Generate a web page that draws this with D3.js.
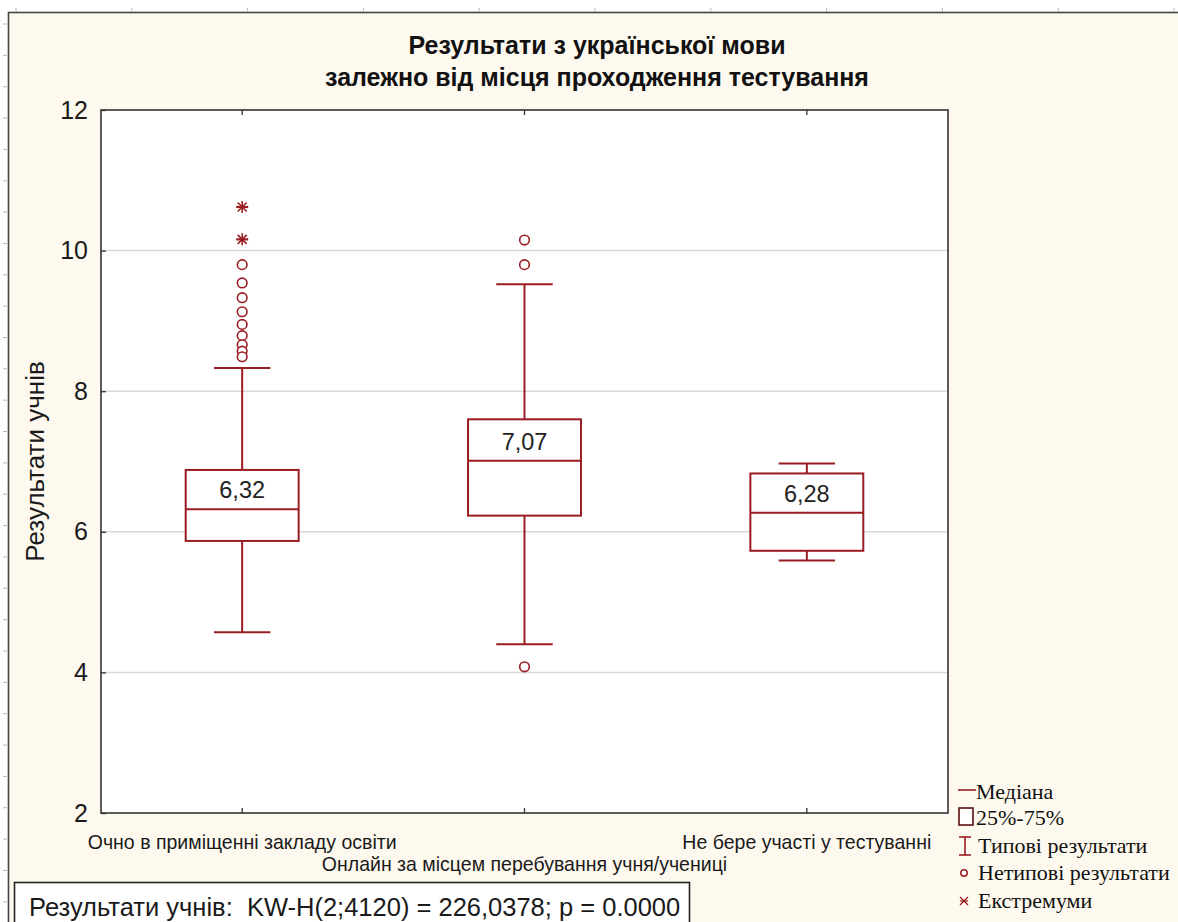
<!DOCTYPE html>
<html><head><meta charset="utf-8">
<script src="https://cdn.jsdelivr.net/npm/d3@7/dist/d3.min.js"></script>
<style>
html,body{margin:0;padding:0;background:#fff;}
svg{display:block;}
</style></head>
<body>
<svg id="chart" width="1178" height="922"></svg>
<script>
// ---- data ----
const categories = ["Очно в приміщенні закладу освіти", "Онлайн за місцем перебування учня/учениці", "Не бере участі у тестуванні"];
const medians = [6.32, 7.01, 6.27];
const medianLabels = ["6,32", "7,07", "6,28"];
const q1 = [5.87, 6.23, 5.73];
const q3 = [6.88, 7.60, 6.83];
const whiskerLow = [4.57, 4.40, 5.59];
const whiskerHigh = [8.33, 9.52, 6.97];
const outliers = [
  [9.80, 9.54, 9.33, 9.13, 8.95, 8.79, 8.66, 8.57, 8.49],
  [10.15, 9.80, 4.08],
  []
];
const extremes = [[10.62, 10.16], [], []];
const yTicks = [2, 4, 6, 8, 10, 12];
const gridValues = [4, 6, 8, 10];
const titleLines = ["Результати з української мови", "залежно від місця проходження тестування"];
const yTitle = "Результати учнів";
const statsText = "Результати учнів:\u00a0 KW-H(2;4120) = 226,0378; p = 0.0000";
const legendItems = ["Медіана", "25%-75%", "Типові результати", "Нетипові результати", "Екстремуми"];

// ---- layout ----
const svg = d3.select("#chart");
const W = 1178, H = 922;
const plot = {l: 101, r: 948, t: 110, b: 813};
const red = "#9a1c22";
const sans = "Arial, 'Liberation Sans', sans-serif";
const serif = "'Times New Roman', 'Liberation Serif', serif";

// ruler strip
svg.append("rect").attr("width", W).attr("height", H).attr("fill", "#ffffff");
svg.append("rect").attr("x", 8.5).attr("y", 12.5).attr("width", W + 10).attr("height", H + 10)
  .attr("fill", "#fef9ee").attr("stroke", "#444").attr("stroke-width", 1.6);
const topTicks = d3.range(16, W, 115.8);
svg.selectAll(".rt").data(topTicks).join("line")
  .attr("x1", d => d).attr("x2", d => d).attr("y1", 8).attr("y2", 12)
  .attr("stroke", "#b8b8b8").attr("stroke-width", 1);
const leftTicks = d3.range(24, H, 31.35);
svg.selectAll(".rl").data(leftTicks).join("line")
  .attr("x1", 3).attr("x2", 7).attr("y1", d => d).attr("y2", d => d)
  .attr("stroke", "#b8b8b8").attr("stroke-width", 1);

// scales
const y = d3.scaleLinear().domain([2, 12]).range([plot.b, plot.t]);
const x = d3.scaleBand().domain(categories).range([plot.l, plot.r]);
const cx = c => x(c) + x.bandwidth() / 2;
const boxW = x.bandwidth() * 0.4;
const capW = x.bandwidth() * 0.2;

// plot area
svg.append("rect").attr("x", plot.l).attr("y", plot.t).attr("width", plot.r - plot.l).attr("height", plot.b - plot.t)
  .attr("fill", "#ffffff");
svg.selectAll(".grid").data(gridValues).join("line")
  .attr("x1", plot.l).attr("x2", plot.r).attr("y1", d => y(d)).attr("y2", d => y(d))
  .attr("stroke", "#d9d9d9").attr("stroke-width", 1.5);

// axes
const yAxis = svg.append("g").attr("transform", `translate(${plot.l},0)`)
  .call(d3.axisLeft(y).tickValues(yTicks).tickSizeInner(-5).tickSizeOuter(0).tickPadding(13).tickFormat(d3.format("d")));
yAxis.select(".domain").remove();
yAxis.selectAll("line").attr("stroke", "#333").attr("stroke-width", 1.3);
yAxis.selectAll("text").attr("font-family", sans).attr("font-size", 25).attr("fill", "#1a1a1a");

const xAxisB = svg.append("g").attr("transform", `translate(0,${plot.b})`)
  .call(d3.axisBottom(x).tickSizeInner(-5).tickSizeOuter(0).tickFormat(""));
xAxisB.select(".domain").remove();
xAxisB.selectAll("line").attr("stroke", "#333").attr("stroke-width", 1.3);
const xAxisT = svg.append("g").attr("transform", `translate(0,${plot.t})`)
  .call(d3.axisTop(x).tickSizeInner(-5).tickSizeOuter(0).tickFormat(""));
xAxisT.select(".domain").remove();
xAxisT.selectAll("line").attr("stroke", "#333").attr("stroke-width", 1.3);

svg.append("rect").attr("x", plot.l).attr("y", plot.t).attr("width", plot.r - plot.l).attr("height", plot.b - plot.t)
  .attr("fill", "none").attr("stroke", "#333").attr("stroke-width", 1.6);

// category labels (staggered)
const labY = i => i === 1 ? 871 : 849;
svg.selectAll(".xl").data(categories).join("text")
  .attr("x", d => cx(d)).attr("y", (d, i) => labY(i))
  .attr("text-anchor", "middle").attr("font-family", sans).attr("font-size", 21)
  .attr("fill", "#1a1a1a")
  .attr("transform", (d, i) => { const X = cx(d), Y = labY(i); return `translate(${X},${Y}) scale(0.93,1) translate(${-X},${-Y})`; })
  .text(d => d);

// boxes
const g = svg.append("g");
categories.forEach((c, i) => {
  const X = cx(c);
  g.append("line").attr("x1", X).attr("x2", X).attr("y1", y(q3[i])).attr("y2", y(whiskerHigh[i])).attr("stroke", red).attr("stroke-width", 2);
  g.append("line").attr("x1", X).attr("x2", X).attr("y1", y(q1[i])).attr("y2", y(whiskerLow[i])).attr("stroke", red).attr("stroke-width", 2);
  g.append("line").attr("x1", X - capW / 2).attr("x2", X + capW / 2).attr("y1", y(whiskerHigh[i])).attr("y2", y(whiskerHigh[i])).attr("stroke", red).attr("stroke-width", 2);
  g.append("line").attr("x1", X - capW / 2).attr("x2", X + capW / 2).attr("y1", y(whiskerLow[i])).attr("y2", y(whiskerLow[i])).attr("stroke", red).attr("stroke-width", 2);
  g.append("rect").attr("x", X - boxW / 2).attr("y", y(q3[i])).attr("width", boxW).attr("height", y(q1[i]) - y(q3[i]))
    .attr("fill", "#ffffff").attr("stroke", red).attr("stroke-width", 2);
  g.append("line").attr("x1", X - boxW / 2).attr("x2", X + boxW / 2).attr("y1", y(medians[i])).attr("y2", y(medians[i])).attr("stroke", red).attr("stroke-width", 2);
  g.append("text").attr("x", X).attr("y", y(medians[i]) - 11).attr("text-anchor", "middle")
    .attr("font-family", sans).attr("font-size", 23.5).attr("fill", "#222").text(medianLabels[i]);
  g.selectAll(null).data(outliers[i]).join("circle")
    .attr("cx", X).attr("cy", d => y(d)).attr("r", 4.8)
    .attr("fill", "#fff").attr("stroke", red).attr("stroke-width", 1.6);
  extremes[i].forEach(v => {
    const Y = y(v), s = 6;
    const p = g.append("g").attr("stroke", red).attr("stroke-width", 1.6);
    p.append("line").attr("x1", X - s).attr("x2", X + s).attr("y1", Y).attr("y2", Y).attr("stroke-width", 2.2);
    p.append("line").attr("x1", X).attr("x2", X).attr("y1", Y - s).attr("y2", Y + s);
    p.append("line").attr("x1", X - s * 0.75).attr("x2", X + s * 0.75).attr("y1", Y - s * 0.75).attr("y2", Y + s * 0.75);
    p.append("line").attr("x1", X - s * 0.75).attr("x2", X + s * 0.75).attr("y1", Y + s * 0.75).attr("y2", Y - s * 0.75);
  });
});

// title
svg.selectAll(".title").data(titleLines).join("text")
  .attr("x", 597).attr("y", (d, i) => 54 + i * 32).attr("text-anchor", "middle")
  .attr("font-family", sans).attr("font-size", 25).attr("font-weight", "bold").attr("fill", "#111")
  .text(d => d);

// y title
svg.append("text").attr("transform", `translate(44,${(plot.t + plot.b) / 2}) rotate(-90)`)
  .attr("text-anchor", "middle").attr("font-family", sans).attr("font-size", 26).attr("fill", "#1a1a1a")
  .text(yTitle);

// stats box
svg.append("rect").attr("x", 14.5).attr("y", 882.5).attr("width", 675).attr("height", 50)
  .attr("fill", "#ffffff").attr("stroke", "#222").attr("stroke-width", 1.6);
svg.append("text").attr("x", 29).attr("y", 916).attr("font-family", sans).attr("font-size", 25.5).attr("fill", "#1a1a1a")
  .text(statsText);

// legend
const lg = svg.append("g");
const ly = [792, 818, 846, 873, 901];
const lx = [976, 976, 978, 978, 978];
lg.selectAll("text").data(legendItems).join("text")
  .attr("x", (d, i) => lx[i]).attr("y", (d, i) => ly[i] + 7)
  .attr("font-family", serif).attr("font-size", 22).attr("fill", "#111")
  .text(d => d);
lg.append("line").attr("x1", 958).attr("x2", 976).attr("y1", 790).attr("y2", 790).attr("stroke", red).attr("stroke-width", 1.6);
lg.append("rect").attr("x", 959).attr("y", 808).attr("width", 14).attr("height", 17).attr("fill", "#fff").attr("stroke", "#5a1010").attr("stroke-width", 1.6);
lg.append("line").attr("x1", 965).attr("x2", 965).attr("y1", 837).attr("y2", 855).attr("stroke", red).attr("stroke-width", 1.6);
lg.append("line").attr("x1", 959).attr("x2", 971).attr("y1", 837).attr("y2", 837).attr("stroke", red).attr("stroke-width", 1.6);
lg.append("line").attr("x1", 959).attr("x2", 971).attr("y1", 855).attr("y2", 855).attr("stroke", red).attr("stroke-width", 1.6);
lg.append("circle").attr("cx", 964).attr("cy", 873).attr("r", 3.2).attr("fill", "#fff").attr("stroke", red).attr("stroke-width", 1.5);
(() => { const X = 964, Y = 901, s = 4; const p = lg.append("g").attr("stroke", red).attr("stroke-width", 1.2);
  p.append("line").attr("x1", X - s).attr("x2", X + s).attr("y1", Y).attr("y2", Y);
  p.append("line").attr("x1", X - s).attr("x2", X + s).attr("y1", Y - s).attr("y2", Y + s);
  p.append("line").attr("x1", X - s).attr("x2", X + s).attr("y1", Y + s).attr("y2", Y - s); })();
</script>
</body></html>
